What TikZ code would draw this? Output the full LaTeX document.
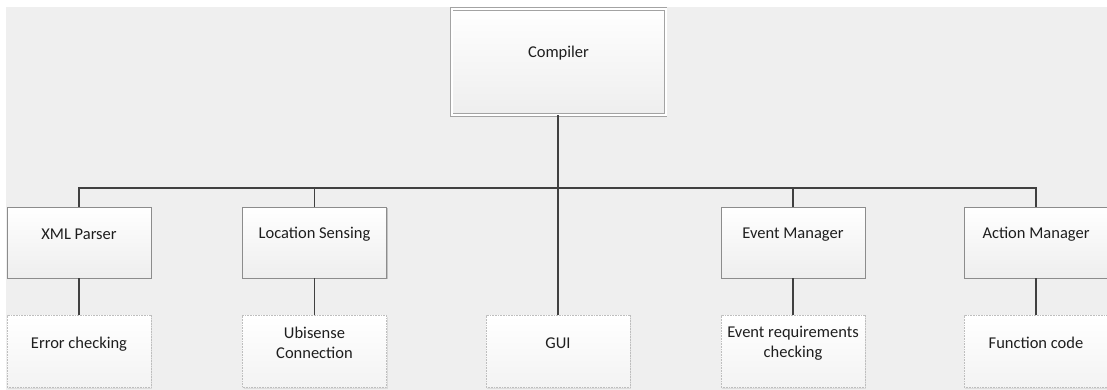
\documentclass[tikz,border=0pt]{standalone}
\usepackage{fontspec}
\setmainfont{Carlito}
\usetikzlibrary{shadows}

\definecolor{bgcol}{RGB}{239,239,239}
\definecolor{linkcol}{RGB}{64,64,64}
\definecolor{edgecol}{RGB}{140,140,140}
\definecolor{lowfill}{RGB}{238,238,238}
\definecolor{dotcol}{RGB}{190,190,190}
\definecolor{txtcol}{RGB}{30,30,30}

\tikzset{
  unitbox/.style={rectangle, minimum width=144pt, inner sep=0pt},
  topbox/.style={unitbox, draw=edgecol, line width=0.8pt,
    top color=white, bottom color=lowfill, minimum height=71pt,
    drop shadow={shadow xshift=1pt, shadow yshift=-1pt, fill=black, opacity=0.18}},
  subbox/.style={unitbox, draw=dotcol, line width=0.7pt, dash pattern=on 0.8pt off 0.8pt,
    top color=white, bottom color=lowfill!70, minimum height=72pt,
    drop shadow={shadow xshift=1pt, shadow yshift=-1pt, fill=black, opacity=0.08}},
  rootbox/.style={rectangle, inner sep=0pt, minimum width=214pt, minimum height=106pt,
    draw=edgecol!80, line width=0.8pt, double=white, double distance=2pt,
    top color=white, bottom color=lowfill,
    drop shadow={shadow xshift=1pt, shadow yshift=-1pt, fill=black, opacity=0.15}},
  caption/.style={align=center, text=txtcol, inner sep=0pt,
    font=\fontsize{16.5}{20}\selectfont},
  link/.style={draw=linkcol, line width=1.6pt}
}

\begin{document}
\begin{tikzpicture}[x=1pt, y=-1pt]
  \useasboundingbox (0,0) rectangle (1107,390);
  \fill[bgcol] (6,7) rectangle (1107,390);

  % root
  \node[rootbox] (comp) at (558.5,62) {};
  \node[caption] (compT) at ([yshift=9pt]comp.center) {Compiler};

  % first level
  \node[topbox] (xml) at (79,242.5) {};
  \node[topbox] (loc) at (314.5,242.5) {};
  \node[topbox] (evt) at (793,242.5) {};
  \node[topbox] (act) at (1036,242.5) {};

  % second level
  \node[subbox] (err) at (79,351.5) {};
  \node[subbox] (ubi) at (314.5,351.5) {};
  \node[subbox] (gui) at (558,351.5) {};
  \node[subbox] (req) at (793,351.5) {};
  \node[subbox] (fun) at (1036,351.5) {};

  % connectors
  \coordinate (bus) at (558,188);
  \draw[link] (comp.south -| bus) -- (gui.north);
  \draw[link] (xml.north) |- (bus);
  \draw[link] (loc.north) |- (bus);
  \draw[link] (evt.north) |- (bus);
  \draw[link] (act.north) |- (bus);
  \draw[link] (xml.south) -- (err.north);
  \draw[link] (loc.south) -- (ubi.north);
  \draw[link] (evt.south) -- (req.north);
  \draw[link] (act.south) -- (fun.north);

  % labels
  \node[caption] (xmlT) at ([yshift=8pt]xml.center) {XML Parser};
  \node[caption] (locT) at ([yshift=8pt]loc.center) {Location Sensing};
  \node[caption] (evtT) at ([yshift=8pt]evt.center) {Event Manager};
  \node[caption] (actT) at ([yshift=8pt]act.center) {Action Manager};
  \node[caption] (errT) at ([yshift=7.5pt]err.center) {Error checking};
  \node[caption] (ubiT) at ([yshift=8.5pt]ubi.center) {Ubisense\\Connection};
  \node[caption] (guiT) at ([yshift=8pt]gui.center) {GUI};
  \node[caption] (reqT) at ([yshift=8.5pt]req.center) {Event requirements\\checking};
  \node[caption] (funT) at ([yshift=8.5pt]fun.center) {Function code};
\end{tikzpicture}
\end{document}
